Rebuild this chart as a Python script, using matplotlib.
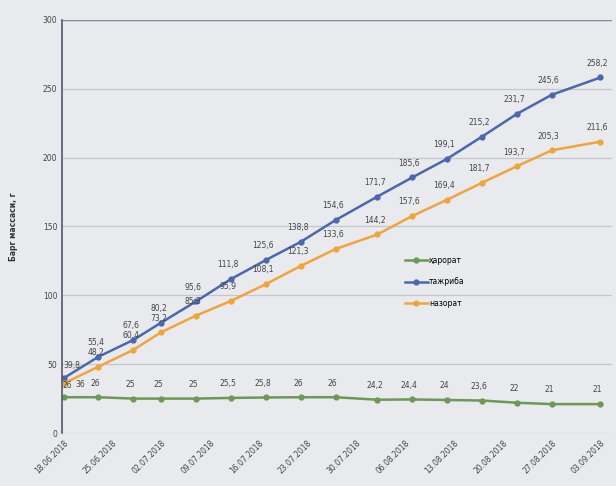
import datetime as dt
import matplotlib
matplotlib.use("Agg")
import matplotlib.pyplot as plt
import matplotlib.dates as mdates

# point dates (approx. every 5 days)
dates = ["18.06.2018", "23.06.2018", "28.06.2018", "02.07.2018", "07.07.2018",
         "12.07.2018", "17.07.2018", "22.07.2018", "27.07.2018", "02.08.2018",
         "07.08.2018", "12.08.2018", "17.08.2018", "22.08.2018", "27.08.2018",
         "03.09.2018"]
harorat = [26, 26, 25, 25, 25, 25.5, 25.8, 26, 26, 24.2, 24.4, 24, 23.6, 22, 21, 21]
tajriba = [39.8, 55.4, 67.6, 80.2, 95.6, 111.8, 125.6, 138.8, 154.6, 171.7,
           185.6, 199.1, 215.2, 231.7, 245.6, 258.2]
nazorat = [36, 48.2, 60.4, 73.2, 85.3, 95.9, 108.1, 121.3, 133.6, 144.2,
           157.6, 169.4, 181.7, 193.7, 205.3, 211.6]
tick_dates = ["18.06.2018", "25.06.2018", "02.07.2018", "09.07.2018", "16.07.2018",
              "23.07.2018", "30.07.2018", "06.08.2018", "13.08.2018", "20.08.2018",
              "27.08.2018", "03.09.2018"]
labels = ["ҳарорат", "тажриба", "назорат"]
ylabel = "Барг массаси, г"

x = [dt.datetime.strptime(d, "%d.%m.%Y") for d in dates]
xt = [dt.datetime.strptime(d, "%d.%m.%Y") for d in tick_dates]

bg = "#e9eaee"
fig = plt.figure(figsize=(6.16, 4.86), dpi=100, facecolor=bg)
ax = fig.add_axes([0.101, 0.109, 0.893, 0.850], facecolor=bg)

series = [(harorat, "#6a9a55"), (tajriba, "#4a68ad"), (nazorat, "#f0a53a")]
for (vals, col), lab in zip(series, labels):
    ax.plot(x, vals, color=col, lw=1.8, marker="o", ms=3.5, label=lab)
    for i, (xi, v) in enumerate(zip(x, vals)):
        s = ("%g" % v).replace(".", ",")
        off, va = (-2, 7), "bottom"
        if i == 0:
            # keep first labels clear of the y tick labels and each other
            off, va = {"#6a9a55": ((3, 5), "bottom"),
                       "#4a68ad": ((6, 6), "bottom"),
                       "#f0a53a": ((12, -1), "center")}[col]
        ax.annotate(s, (xi, v), xytext=off, textcoords="offset points",
                    ha="center", va=va, fontsize=5.5, color="#444444")

ax.set_ylim(0, 300)
ax.set_yticks(range(0, 301, 50))
ax.set_xlim(x[0] - dt.timedelta(days=0.2), xt[-1] + dt.timedelta(days=1.7))
ax.set_xticks(xt)
ax.xaxis.set_major_formatter(mdates.DateFormatter("%d.%m.%Y"))
plt.setp(ax.get_xticklabels(), rotation=45, ha="right", rotation_mode="anchor")
ax.tick_params(axis="both", labelsize=5.5, colors="#444444", length=0)
ax.tick_params(axis="x", pad=4)

ax.grid(axis="y", color="#c4c6cc", lw=0.9)
ax.set_axisbelow(True)
for side in ["top", "right", "bottom"]:
    ax.spines[side].set_visible(False)
ax.spines["left"].set_color("#55576a")
ax.spines["left"].set_linewidth(1.2)
ax.axhline(300, color="#8a8c98", lw=1.0)

ax.set_ylabel(ylabel, fontsize=5.5, color="#333333", fontweight="bold", labelpad=18)

ax.legend(loc="upper left", bbox_to_anchor=(0.61, 0.445), frameon=False,
          fontsize=5.5, handlelength=3, labelspacing=1.6, handletextpad=0.2)

plt.savefig("out.png", dpi=100, facecolor=bg)
